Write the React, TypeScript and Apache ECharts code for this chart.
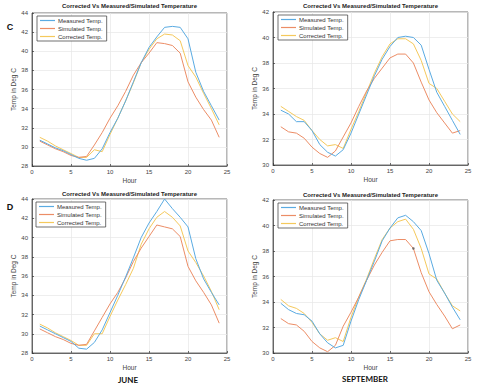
import React, { useEffect, useRef } from "react";
import * as echarts from "echarts";

const hours = [1, 2, 3, 4, 5, 6, 7, 8, 9, 10, 11, 12, 13, 14, 15, 16, 17, 18, 19, 20, 21, 22, 23, 24];
const seriesNames = ["Measured Temp.", "Simulated Temp.", "Corrected Temp."];
const chartTitle = "Corrected Vs Measured/Simulated Temperature";

// Panel C (top-left)
const cMeasured = [30.7, 30.3, 29.9, 29.6, 29.2, 28.8, 28.6, 28.8, 29.8, 31.5, 33.0, 34.8, 36.8, 38.8, 40.4, 41.5, 42.5, 42.6, 42.5, 41.3, 37.8, 35.8, 34.3, 32.8];
const cSimulated = [30.6, 30.2, 29.8, 29.5, 29.1, 28.9, 29.0, 30.2, 31.5, 33.0, 34.3, 35.8, 37.5, 38.8, 39.8, 40.9, 40.8, 40.6, 39.8, 36.8, 35.2, 33.9, 32.8, 31.0];
const cCorrected = [31.0, 30.6, 30.1, 29.7, 29.3, 28.9, 28.9, 29.7, 29.5, 31.3, 33.0, 34.8, 36.7, 38.8, 40.2, 41.3, 41.8, 41.7, 41.1, 38.5, 37.3, 35.6, 34.0, 32.3];

// Panel top-right
const sep1Measured = [34.3, 34.0, 33.4, 33.4, 32.7, 31.6, 31.0, 30.7, 31.2, 32.5, 34.0, 35.5, 37.0, 38.3, 39.3, 40.0, 40.1, 40.0, 39.4, 37.5, 35.7, 34.6, 33.5, 32.4];
const sep1Simulated = [33.0, 32.6, 32.5, 32.1, 31.4, 30.9, 30.6, 31.1, 32.2, 33.3, 34.6, 35.8, 36.8, 37.6, 38.4, 38.7, 38.7, 38.0, 36.5, 35.1, 34.1, 33.3, 32.5, 32.7];
const sep1Corrected = [34.6, 34.2, 33.8, 33.5, 32.7, 32.0, 31.5, 31.6, 31.3, 32.8, 34.2, 35.7, 37.2, 38.5, 39.5, 39.9, 39.9, 39.5, 38.2, 36.4, 36.0, 35.0, 34.0, 33.4];

// Panel D (bottom-left, JUNE)
const dMeasured = [30.8, 30.4, 30.0, 29.6, 29.2, 28.5, 28.4, 29.1, 30.4, 32.2, 34.0, 35.9, 37.9, 40.0, 41.5, 42.7, 44.0, 43.0, 42.1, 41.1, 37.8, 35.7, 34.3, 33.0];
const dSimulated = [30.5, 30.1, 29.7, 29.4, 29.0, 28.8, 28.9, 30.3, 31.7, 33.1, 34.3, 35.8, 37.5, 38.9, 40.1, 41.3, 41.1, 40.9, 40.1, 37.0, 35.5, 34.3, 33.0, 31.1];
const dCorrected = [31.0, 30.6, 30.1, 29.7, 29.3, 28.8, 28.8, 30.0, 30.0, 31.8, 33.5, 35.1, 36.8, 39.3, 40.9, 42.1, 42.7, 42.1, 41.2, 38.6, 37.4, 36.0, 34.4, 32.5];

// Panel bottom-right (SEPTEMBER)
const sep2Measured = [33.9, 33.4, 33.1, 33.0, 32.5, 31.5, 30.8, 30.4, 30.6, 32.5, 34.2, 35.7, 37.2, 38.8, 39.8, 40.6, 40.8, 40.3, 39.6, 37.8, 35.7, 34.7, 33.6, 32.6];
const sep2Simulated = [32.7, 32.3, 32.2, 31.7, 30.9, 30.4, 30.1, 30.6, 32.1, 33.2, 34.4, 35.7, 36.9, 37.9, 38.8, 38.9, 38.9, 38.2, 36.3, 34.8, 33.8, 32.9, 31.9, 32.2];
const sep2Corrected = [34.2, 33.7, 33.5, 33.1, 32.4, 31.5, 31.0, 31.2, 30.9, 32.8, 34.4, 35.8, 37.4, 38.9, 39.8, 40.3, 40.5, 39.7, 38.2, 36.2, 35.8, 34.7, 33.7, 33.3];
const sep2DataTip = [[18, 38.2]];

const yRanges = [
  [28, 44],
  [30, 42],
  [28, 44],
  [30, 42],
];

const panelData = [
  [cMeasured, cSimulated, cCorrected],
  [sep1Measured, sep1Simulated, sep1Corrected],
  [dMeasured, dSimulated, dCorrected],
  [sep2Measured, sep2Simulated, sep2Corrected],
];

const colors = ["#5AABE2", "#EC8D66", "#F5C95C"];

const grids = [
  { left: 32, top: 13, width: 195, height: 153 },
  { left: 273, top: 12, width: 195, height: 153 },
  { left: 32, top: 199, width: 195, height: 154 },
  { left: 273, top: 200, width: 195, height: 153 },
];
const legendPos = [
  { left: 37, top: 16 },
  { left: 278, top: 15 },
  { left: 36, top: 202 },
  { left: 278, top: 203 },
];

export default function App() {
  const ref = useRef<HTMLDivElement>(null);
  useEffect(() => {
    if (!ref.current) return;
    const chart = echarts.init(ref.current, null, { renderer: "svg" });
    const font = "Liberation Sans, Arial, sans-serif";

    const xAxes = grids.map((_, i) => ({
      type: "value",
      gridIndex: i,
      min: 0,
      max: 25,
      interval: 5,
      name: "Hour",
      nameLocation: "middle",
      nameGap: 11,
      nameTextStyle: { fontSize: 6.5, color: "#444", fontFamily: font },
      axisLine: { show: true, lineStyle: { color: "#333", width: 0.7 } },
      axisTick: { show: true, inside: true, length: 2, lineStyle: { color: "#333", width: 0.7 } },
      axisLabel: { fontSize: 6, color: "#444", margin: 3, fontFamily: font },
      splitLine: { show: true, lineStyle: { color: "#e6e6e6", width: 0.7 } },
    }));
    const yAxes = grids.map((_, i) => ({
      type: "value",
      gridIndex: i,
      min: yRanges[i][0],
      max: yRanges[i][1],
      interval: 2,
      name: "Temp in Deg C",
      nameLocation: "middle",
      nameGap: 11,
      nameTextStyle: { fontSize: 6.5, color: "#444", fontFamily: font },
      axisLine: { show: true, lineStyle: { color: "#333", width: 0.7 } },
      axisTick: { show: true, inside: true, length: 2, lineStyle: { color: "#333", width: 0.7 } },
      axisLabel: { fontSize: 6, color: "#444", margin: 4, fontFamily: font },
      splitLine: { show: true, lineStyle: { color: "#e6e6e6", width: 0.7 } },
    }));

    const series: any[] = [];
    panelData.forEach((sets, p) => {
      sets.forEach((vals, k) => {
        series.push({
          type: "line",
          name: seriesNames[k],
          xAxisIndex: p,
          yAxisIndex: p,
          data: hours.map((h, j) => [h, vals[j]]),
          symbol: "none",
          lineStyle: { color: colors[k], width: 1 },
          itemStyle: { color: colors[k] },
          z: 3 + (2 - k),
        });
      });
    });
    series.push({
      type: "scatter",
      name: "datatip",
      xAxisIndex: 3,
      yAxisIndex: 3,
      data: sep2DataTip,
      symbolSize: 2.5,
      itemStyle: { color: "#555" },
      z: 10,
    });

    const legends = legendPos.map((lp) => ({
      data: seriesNames.map((n) => ({ name: n, icon: "rect" })),
      left: lp.left,
      top: lp.top,
      orient: "vertical",
      itemWidth: 15,
      itemHeight: 1.2,
      itemGap: 1,
      padding: [1, 4, 1, 3],
      borderColor: "#333",
      borderWidth: 0.7,
      backgroundColor: "#fff",
      selectedMode: false,
      textStyle: { fontSize: 6, lineHeight: 7, color: "#333", fontFamily: font, padding: [0, 0, 0, -2] },
    }));

    const centers = grids.map((g) => g.left + g.width / 2);
    const titleTexts = [
      { x: centers[0], y: 6 },
      { x: centers[1], y: 6 },
      { x: centers[2], y: 194 },
      { x: centers[3], y: 195 },
    ].map((t) => ({
      type: "text",
      x: t.x,
      y: t.y,
      style: {
        text: chartTitle,
        align: "center",
        verticalAlign: "middle",
        fontSize: 6,
        fontWeight: "bold",
        fontFamily: font,
        fill: "#222",
      },
    }));

    const option: any = {
      animation: false,
      backgroundColor: "#fff",
      grid: grids.map((g) => ({
        ...g,
        show: true,
        borderColor: "#333",
        borderWidth: 0.7,
        backgroundColor: "#fff",
      })),
      xAxis: xAxes,
      yAxis: yAxes,
      legend: legends,
      series,
      graphic: [
        ...titleTexts,
        {
          type: "text",
          x: 10,
          y: 27,
          style: { text: "C", align: "center", verticalAlign: "middle", fontSize: 9, fontWeight: "bold", fontFamily: font, fill: "#111" },
        },
        {
          type: "text",
          x: 10,
          y: 207,
          style: { text: "D", align: "center", verticalAlign: "middle", fontSize: 9, fontWeight: "bold", fontFamily: font, fill: "#111" },
        },
        {
          type: "text",
          x: 128,
          y: 380,
          style: { text: "JUNE", align: "center", verticalAlign: "middle", fontSize: 8, fontWeight: "bold", fontFamily: "Lato, sans-serif", fill: "#111" },
        },
        {
          type: "text",
          x: 365,
          y: 379,
          style: { text: "SEPTEMBER", align: "center", verticalAlign: "middle", fontSize: 8, fontWeight: "bold", fontFamily: "Lato, sans-serif", fill: "#111" },
        },
      ],
    };
    chart.setOption(option);
    return () => chart.dispose();
  }, []);
  return (
    <div
      ref={ref}
      style={{ position: "fixed", left: 0, top: 0, width: 480, height: 385, background: "#fff" }}
    />
  );
}
